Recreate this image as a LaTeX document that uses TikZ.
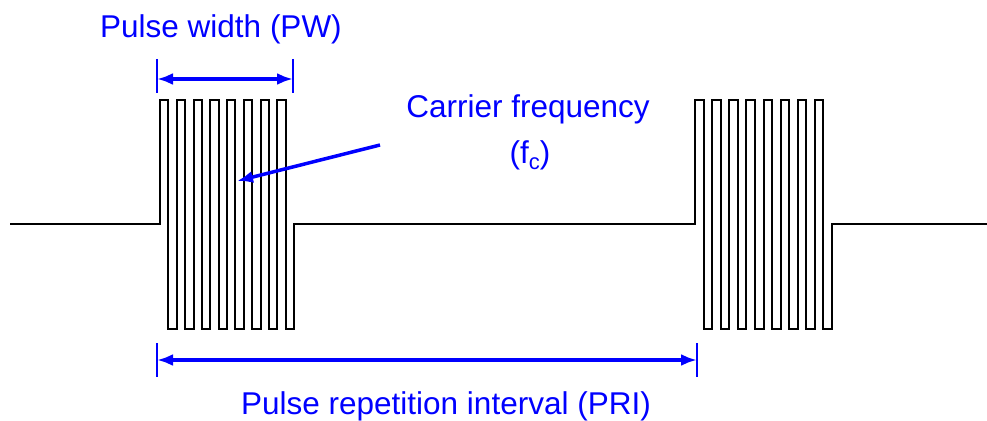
\documentclass[tikz,border=0pt]{standalone}
\usepackage{fontspec}
\setmainfont{Liberation Sans}
\usetikzlibrary{arrows.meta}
\definecolor{lblue}{RGB}{0,0,255}
\begin{document}
\begin{tikzpicture}[x=1pt,y=-1pt,
  wave/.style={draw=black,line width=2pt,line join=miter},
  dimarrow/.style={draw=lblue,line width=3.5pt,{Latex[length=16pt,width=12pt]}-{Latex[length=16pt,width=12pt]}},
  ptarrow/.style={draw=lblue,line width=3.5pt,-{Latex[length=16pt,width=12pt]}},
  tick/.style={draw=lblue,line width=1.6pt},
  lbl/.style={text=lblue,font=\fontsize{31.5pt}{36pt}\selectfont,inner sep=0pt,anchor=base}]
\useasboundingbox (0,0) rectangle (987,420);
% waveform
\draw[wave] (10,224) -- (160,224) -- (160,100)
  foreach \i in {1,...,7} { -- ++(8.375,0) -- ++(0,229) -- ++(8.375,0) -- ++(0,-229) }
  -- ++(8.375,0) -- ++(0,229) -- ++(8.375,0) -- ++(0,-105)
  -- (695,224) -- (695,100)
  foreach \i in {1,...,7} { -- ++(8.5625,0) -- ++(0,229) -- ++(8.5625,0) -- ++(0,-229) }
  -- ++(8.5625,0) -- ++(0,229) -- ++(8.5625,0) -- ++(0,-105) -- (987,224);
% pulse width
\coordinate (pwL) at (157,79);
\coordinate (pwR) at (293,79);
\draw[tick] (157,59) -- (157,93);
\draw[tick] (293,59) -- (293,93);
\draw[dimarrow] (pwL) -- (pwR);
\node[lbl] (pw) at (221,37.5) {Pulse width (PW)};
% PRI
\coordinate (priL) at (157,360);
\coordinate (priR) at (697,360);
\draw[tick] (157,343) -- (157,377);
\draw[tick] (697,343) -- (697,377);
\draw[dimarrow] (priL) -- (priR);
\node[lbl] (pri) at (446,414.5) {Pulse repetition interval (PRI)};
% carrier
\node[lbl] (cf) at (528,117.5) {Carrier frequency};
\node[lbl] (fc) at (530,163) {(f\raisebox{-6pt}{\fontsize{22pt}{24pt}\selectfont c})};
\coordinate (cfs) at (380,145);
\coordinate (cfe) at (237,181);
\draw[ptarrow] (cfs) -- (cfe);
\end{tikzpicture}
\end{document}
